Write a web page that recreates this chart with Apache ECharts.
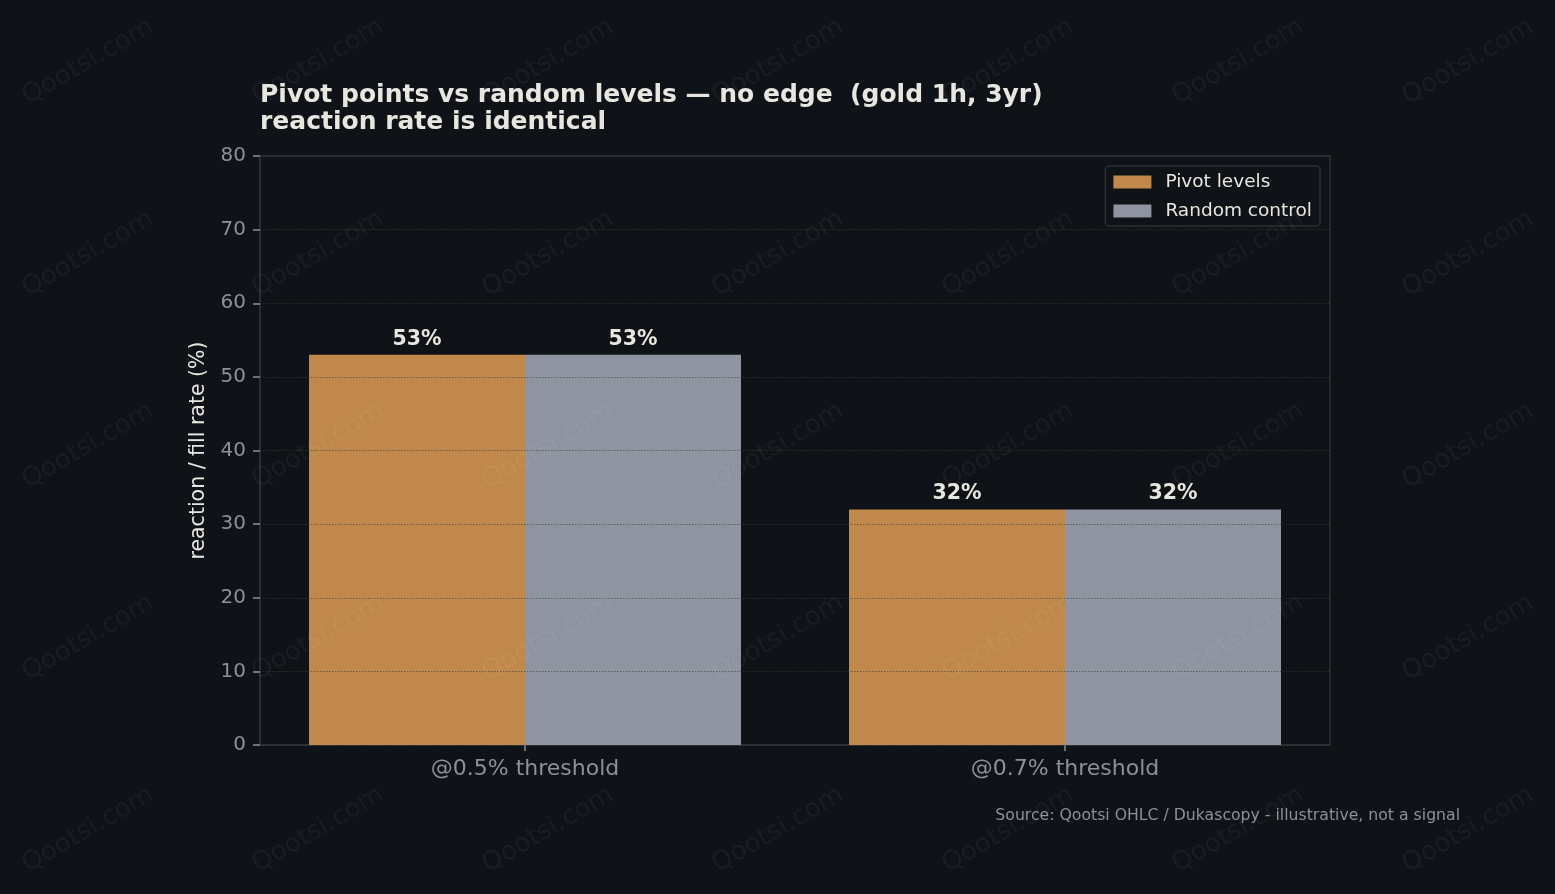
<!DOCTYPE html>
<html>
<head>
<meta charset="utf-8">
<script src="https://cdn.jsdelivr.net/npm/echarts@6/dist/echarts.min.js"></script>
<style>
  html, body { margin: 0; padding: 0; background: #0f1216; }
  #chart { width: 1555px; height: 894px; }
</style>
</head>
<body>
<div id="chart"></div>
<script>
// categories and series values
const thresholds = ["@0.5% threshold", "@0.7% threshold"];
const pivotLevels = [53, 32];
const randomControl = [53, 32];
const yTicks = [0, 10, 20, 30, 40, 50, 60, 70, 80];

const FONT = "DejaVu Sans";
const BG = "#0f1216";
const ORANGE = "#c0894b";
const GREY = "#8e94a0";
const TEXT = "#e8e6e0";
const MUTED = "#8b919c";
const SPINE = "#2c3036";

// faint diagonal watermark tiles
const watermarkCols = [88, 318, 548, 778, 1008, 1238, 1468];
const watermarkRows = [62, 254, 446, 638, 830];

function buildWatermarks() {
  const items = [];
  watermarkRows.forEach((y) => {
    watermarkCols.forEach((x) => {
      items.push({
        type: "text",
        x: x,
        y: y,
        rotation: Math.PI / 6,
        z: 100,
        silent: true,
        style: {
          text: "Qootsi.com",
          fill: "rgba(255,255,255,0.045)",
          font: `26px "${FONT}"`,
          align: "center",
          verticalAlign: "middle",
        },
      });
    });
  });
  return items;
}

// bars sit on a numeric x axis so the side padding matches the original (~0.49 unit each side)
const pivotData = thresholds.map((_, i) => [i, pivotLevels[i]]);
const randomData = thresholds.map((_, i) => [i, randomControl[i]]);
const tickPositions = thresholds.map((_, i) => i);
const X_PAD = 0.49074;

const barLabel = {
  show: true,
  position: "top",
  distance: 5,
  formatter: (p) => `${p.value[1]}%`,
  color: TEXT,
  fontFamily: FONT,
  fontWeight: "bold",
  fontSize: 20.5,
};

const option = {
  backgroundColor: BG,
  animation: false,
  textStyle: { fontFamily: FONT },
  title: {
    text: "Pivot points vs random levels — no edge  (gold 1h, 3yr)\nreaction rate is identical",
    left: 260,
    top: 82,
    padding: 0,
    textStyle: {
      color: TEXT,
      fontFamily: FONT,
      fontWeight: "bold",
      fontSize: 25,
      lineHeight: 27,
    },
  },
  legend: {
    data: ["Pivot levels", "Random control"],
    orient: "vertical",
    right: 235,
    top: 166,
    icon: "rect",
    itemWidth: 38,
    itemHeight: 13,
    itemGap: 9,
    padding: [6, 8, 5, 8],
    backgroundColor: BG,
    borderColor: SPINE,
    borderWidth: 1.5,
    borderRadius: 4,
    textStyle: {
      color: TEXT,
      fontFamily: FONT,
      fontSize: 18.5,
      lineHeight: 20,
      padding: [0, 0, 0, 9],
    },
  },
  grid: {
    left: 260,
    right: 225,
    top: 156,
    bottom: 149,
    show: true,
    borderColor: SPINE,
    borderWidth: 1.5,
    backgroundColor: "transparent",
  },
  xAxis: {
    type: "value",
    min: -X_PAD,
    max: thresholds.length - 1 + X_PAD,
    splitLine: { show: false },
    axisLine: { show: true, onZero: false, lineStyle: { color: SPINE, width: 1.5 } },
    axisTick: {
      show: true,
      customValues: tickPositions,
      length: 6,
      lineStyle: { color: MUTED, width: 1.5 },
    },
    axisLabel: {
      customValues: tickPositions,
      formatter: (v) => thresholds[Math.round(v)],
      color: MUTED,
      fontFamily: FONT,
      fontSize: 22,
      margin: 13,
    },
  },
  yAxis: {
    type: "value",
    min: yTicks[0],
    max: yTicks[yTicks.length - 1],
    interval: 10,
    z: 5,
    name: "reaction / fill rate (%)",
    nameLocation: "middle",
    nameGap: 50,
    nameTextStyle: { color: TEXT, fontFamily: FONT, fontSize: 20.5 },
    axisLine: { show: true, onZero: false, lineStyle: { color: SPINE, width: 1.5 } },
    axisTick: { show: true, length: 7, lineStyle: { color: MUTED, width: 1.5 } },
    axisLabel: { color: MUTED, fontFamily: FONT, fontSize: 20, margin: 14, padding: [5, 0, 0, 0] },
    splitLine: {
      show: true,
      lineStyle: { color: "rgba(62,62,62,0.6)", type: [1.5, 1.5], width: 1.2 },
    },
  },
  series: [
    {
      name: "Pivot levels",
      type: "bar",
      data: pivotData,
      barWidth: 216,
      barGap: "0%",
      itemStyle: { color: ORANGE, borderWidth: 0 },
      label: barLabel,
    },
    {
      name: "Random control",
      type: "bar",
      data: randomData,
      barWidth: 216,
      barGap: "0%",
      itemStyle: { color: GREY, borderWidth: 0 },
      label: barLabel,
    },
  ],
  graphic: [
    ...buildWatermarks(),
    {
      type: "text",
      right: 95,
      top: 808,
      silent: true,
      style: {
        text: "Source: Qootsi OHLC / Dukascopy - illustrative, not a signal",
        fill: MUTED,
        font: `15.7px "${FONT}"`,
      },
    },
  ],
};

const chart = echarts.init(document.getElementById("chart"));
chart.setOption(option);
</script>
</body>
</html>
